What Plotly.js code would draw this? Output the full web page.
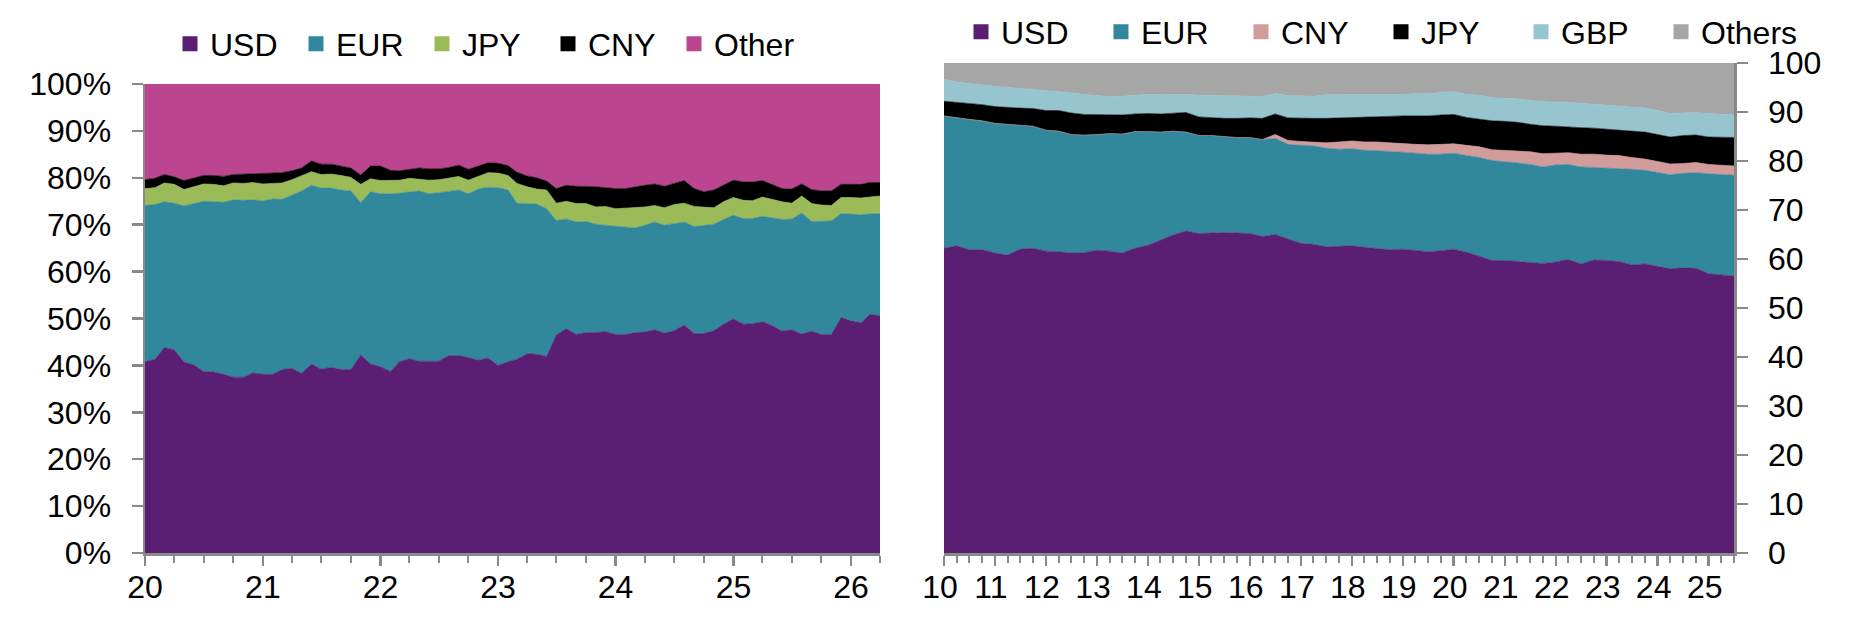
<!DOCTYPE html>
<html>
<head>
<meta charset="utf-8">
<script src="https://cdn.plot.ly/plotly-3.0.1.min.js"></script>
<style>
  html, body { margin: 0; padding: 0; background: #fff; }
  #chart { width: 1859px; height: 638px; }
</style>
</head>
<body>
<div id="chart"></div>
<script>
// ---------------- Left panel: monthly shares (%), Jan 2020 onwards ----------------
const LEFT_NAMES = ['USD', 'EUR', 'JPY', 'CNY', 'Other'];
const USD_L = [40.8,41.3,43.8,43.3,40.7,40.1,38.7,38.6,38.1,37.5, 37.5,38.4,38.1,38.1,39.1,39.4,38.3,40.3,39.2,39.6, 39.1,39.1,42.2,40.3,39.7,38.7,40.8,41.4,40.9,40.9, 40.9,42.1,42.1,41.7,41.1,41.6,40.0,40.8,41.3,42.5, 42.4,41.9,46.5,47.8,46.6,47.0,47.0,47.2,46.6,46.6, 47.0,47.1,47.6,46.9,47.4,48.6,46.8,46.8,47.4,48.8, 49.9,48.8,48.9,49.3,48.5,47.3,47.6,46.7,47.3,46.6, 46.6,50.2,49.5,49.1,50.9,50.6];
const EUR_L = [33.3,33.0,31.1,31.3,33.3,34.4,36.3,36.3,36.7,37.8, 37.7,36.9,37.0,37.4,36.3,36.9,38.9,38.1,38.6,38.2, 38.3,38.1,32.5,36.7,36.9,37.9,35.9,35.6,36.3,35.7, 35.9,35.0,35.3,34.9,36.5,36.4,37.9,36.6,33.3,32.0, 32.0,31.5,24.4,23.4,24.0,23.7,23.1,22.7,23.1,23.0, 22.3,22.8,23.0,23.0,22.8,22.0,22.8,23.0,22.7,22.3, 22.1,22.5,22.4,22.5,22.9,23.8,23.6,25.8,23.4,24.2, 24.2,22.2,22.7,23.0,21.4,21.8];
const JPY_L = [3.6,3.6,4.0,4.0,3.5,3.6,3.7,3.7,3.5,3.6, 3.6,3.7,3.6,3.3,3.5,3.3,3.2,2.9,2.9,3.0, 3.1,2.9,3.9,2.8,2.8,2.8,2.8,2.9,2.5,2.9, 2.8,2.8,2.9,2.9,2.8,3.1,3.1,3.1,4.2,3.6, 3.2,4.0,3.7,3.8,3.9,3.8,3.7,4.0,3.7,3.9, 4.3,3.9,3.5,3.7,4.1,4.0,4.3,4.0,3.5,3.8, 3.8,3.9,3.8,4.1,4.0,3.8,3.4,3.6,3.8,3.4, 3.3,3.4,3.6,3.6,3.6,3.7];
const CNY_L = [1.9,2.0,1.8,1.6,1.9,1.9,1.8,1.9,2.0,1.8, 2.0,1.9,2.2,2.2,2.2,1.9,1.7,2.3,2.2,2.1, 2.0,2.0,2.0,2.7,3.1,2.2,2.0,1.9,2.4,2.4, 2.3,2.3,2.4,2.3,2.1,2.1,2.1,2.1,2.4,2.3, 2.4,1.9,3.1,3.4,3.7,3.7,4.3,4.0,4.3,4.2, 4.5,4.6,4.6,4.6,4.5,4.8,3.8,3.2,3.8,3.5, 3.7,3.9,4.0,3.5,3.2,2.8,3.0,2.6,3.0,3.0, 3.1,2.8,2.8,2.9,3.1,2.9];
const OTH_L = [20.4,20.1,19.3,19.8,20.6,20.0,19.5,19.5,19.7,19.3, 19.2,19.1,19.1,19.0,18.9,18.5,17.9,16.4,17.1,17.1, 17.5,17.9,19.4,17.5,17.5,18.4,18.5,18.2,17.9,18.1, 18.1,17.8,17.3,18.2,17.5,16.8,16.9,17.4,18.8,19.6, 20.0,20.7,22.3,21.6,21.8,21.8,21.9,22.1,22.3,22.3, 21.9,21.6,21.3,21.8,21.2,20.6,22.3,23.0,22.6,21.6, 20.5,20.9,20.9,20.6,21.4,22.3,22.4,21.3,22.5,22.8, 22.8,21.4,21.4,21.4,21.0,21.0];

// ---------------- Right panel: quarterly shares (%), 2010 Q1 onwards ----------------
const RIGHT_NAMES = ['USD', 'EUR', 'CNY', 'JPY', 'GBP', 'Others'];
const USD_R = [62.2,62.7,61.9,61.9,61.2,60.8,62.0,62.2,61.6,61.5, 61.2,61.3,61.8,61.6,61.2,62.2,62.8,63.9,64.9,65.7, 65.2,65.3,65.4,65.3,65.2,64.6,65.0,64.1,63.2,63.0, 62.5,62.6,62.7,62.4,62.1,61.9,62.0,61.7,61.5,61.7, 62.0,61.4,60.6,59.7,59.7,59.5,59.3,59.1,59.4,59.9, 59.0,59.8,59.7,59.5,58.8,59.0,58.5,58.0,58.2,58.1, 57.0,56.7,56.5];
const EUR_R = [27.0,26.1,26.6,26.3,26.5,26.7,25.3,24.9,24.7,24.6, 24.2,24.0,23.6,24.0,24.3,23.8,23.2,22.0,21.2,20.2, 20.0,19.9,19.6,19.5,19.6,19.8,19.6,19.3,20.0,20.1, 20.1,19.8,19.8,19.8,20.0,20.1,19.8,19.9,19.9,19.7, 19.6,19.7,20.1,20.4,20.2,20.1,20.0,19.7,19.8,19.4, 19.8,18.9,18.9,19.0,19.5,19.1,19.2,19.2,19.3,19.5, 20.4,20.6,20.6];
const CNY_R = [0,0,0,0,0,0,0,0,0,0, 0,0,0,0,0,0,0,0,0,0, 0,0,0,0,0,0,0.8,0.8,0.8,0.8, 1.1,1.5,1.6,1.7,1.8,1.7,1.7,1.8,1.9,2.0, 1.9,2.1,2.2,2.2,2.3,2.5,2.6,2.7,2.4,2.4, 2.6,2.7,2.6,2.6,2.4,2.3,2.2,2.2,2.0,2.1, 1.9,1.9,1.9];
const JPY_R = [3.0,3.2,3.2,3.3,3.4,3.4,3.5,3.6,4.0,4.2, 4.4,4.2,4.1,3.9,3.9,3.6,3.7,3.7,3.6,4.0, 3.8,3.6,3.7,3.9,4.0,4.3,4.2,4.6,4.7,4.8, 5.0,4.9,4.7,5.1,5.2,5.5,5.7,5.8,5.9,6.0, 6.0,5.7,5.7,5.9,5.9,5.8,5.6,5.7,5.5,5.2, 5.4,5.3,5.3,5.2,5.3,5.5,5.5,5.5,5.7,5.6, 5.6,5.7,5.8];
const GBP_R = [4.5,4.1,4.1,4.0,4.1,4.1,4.0,3.9,4.0,3.9, 4.1,4.1,3.8,3.7,3.8,3.8,3.9,3.9,3.9,3.7, 4.4,4.5,4.6,4.6,4.4,4.4,4.2,4.5,4.6,4.5, 4.8,4.7,4.8,4.5,4.4,4.4,4.4,4.5,4.5,4.6, 4.7,4.7,4.8,4.7,4.7,4.8,4.9,4.9,4.9,5.1, 5.0,4.9,4.9,4.9,5.0,4.9,4.9,4.8,4.6,4.6, 4.8,4.6,4.6];
const OTH_R = [3.3,3.9,4.2,4.5,4.8,5.0,5.2,5.4,5.7,5.8, 6.1,6.4,6.7,6.8,6.8,6.6,6.4,6.5,6.4,6.4, 6.6,6.7,6.7,6.7,6.8,6.9,6.2,6.7,6.7,6.8, 6.5,6.5,6.4,6.5,6.5,6.4,6.4,6.3,6.3,6.0, 5.8,6.4,6.6,7.1,7.2,7.3,7.6,7.9,8.0,8.0, 8.2,8.4,8.6,8.8,9.0,9.2,9.7,10.3,10.2,10.1, 10.3,10.5,10.6];

// ---------------- Category (date) labels ----------------
function monthDates(startYear, count, stepMonths) {
  const out = [];
  for (let i = 0; i < count; i++) {
    const m = i * stepMonths;
    const y = startYear + Math.floor(m / 12);
    const mm = (m % 12) + 1;
    out.push(y + '-' + String(mm).padStart(2, '0') + '-01');
  }
  return out;
}
const DATES_L = monthDates(2020, USD_L.length, 1);
const DATES_R = monthDates(2010, USD_R.length, 3);

// ---------------- Styles ----------------
const FONT = 'Liberation Sans, Arial, sans-serif';
const FS = 32;
const AXIS_GREY = '#898989';
const COLORS_L = ['#5A1F72', '#31879C', '#9BBB59', '#000000', '#BB458E'];
const COLORS_R = ['#5A1F72', '#31879C', '#D29C9B', '#000000', '#96C4CF', '#A6A6A6'];

const traces = [];
[USD_L, EUR_L, JPY_L, CNY_L, OTH_L].forEach((vals, k) => {
  traces.push({
    type: 'scatter', mode: 'lines', x: DATES_L, y: vals,
    stackgroup: 'left', groupnorm: k === 0 ? 'percent' : undefined,
    line: { width: 0.6, color: COLORS_L[k], shape: 'linear' },
    fillcolor: COLORS_L[k], name: LEFT_NAMES[k],
    xaxis: 'x', yaxis: 'y', showlegend: false, hoverinfo: 'x+y+name'
  });
});
[USD_R, EUR_R, CNY_R, JPY_R, GBP_R, OTH_R].forEach((vals, k) => {
  traces.push({
    type: 'scatter', mode: 'lines', x: DATES_R, y: vals,
    stackgroup: 'right', groupnorm: k === 0 ? 'percent' : undefined,
    line: { width: 0.6, color: COLORS_R[k], shape: 'linear' },
    fillcolor: COLORS_R[k], name: RIGHT_NAMES[k],
    xaxis: 'x2', yaxis: 'y2', showlegend: false, hoverinfo: 'x+y+name'
  });
});
// legend entries (square swatches as in the original)
LEFT_NAMES.forEach((n, k) => traces.push({
  type: 'scatter', mode: 'markers', x: [null], y: [null], name: n,
  marker: { symbol: 'square', size: 15, color: COLORS_L[k] },
  xaxis: 'x', yaxis: 'y', legend: 'legend', showlegend: true, hoverinfo: 'skip'
}));
RIGHT_NAMES.forEach((n, k) => traces.push({
  type: 'scatter', mode: 'markers', x: [null], y: [null], name: n,
  marker: { symbol: 'square', size: 15, color: COLORS_R[k] },
  xaxis: 'x2', yaxis: 'y2', legend: 'legend2', showlegend: true, hoverinfo: 'skip'
}));

const W = 1859, H = 638;
const xAxisCommon = {
  type: 'date', showgrid: false, zeroline: false,
  showline: true, linecolor: AXIS_GREY, linewidth: 2.5,
  ticks: 'outside', ticklen: 10, tickwidth: 2.5, tickcolor: AXIS_GREY,
  dtick: 'M12', tickformat: '%y',
  minor: { dtick: 'M3', ticks: 'outside', ticklen: 7, tickwidth: 2, tickcolor: AXIS_GREY, showgrid: false },
  tickfont: { family: FONT, size: FS, color: '#000' },
  ticklabelstandoff: -6, fixedrange: true
};
const yAxisCommon = {
  range: [0, 100], dtick: 10, tick0: 0, showgrid: false, zeroline: false,
  showline: true, linecolor: AXIS_GREY, linewidth: 2.5,
  ticks: 'outside', ticklen: 11, tickwidth: 2.5, tickcolor: AXIS_GREY,
  tickfont: { family: FONT, size: FS, color: '#000' }, fixedrange: true
};

const layout = {
  width: W, height: H,
  margin: { l: 0, r: 0, t: 0, b: 0 },
  paper_bgcolor: '#fff', plot_bgcolor: '#fff',
  font: { family: FONT, size: FS, color: '#000' },
  xaxis: Object.assign({}, xAxisCommon, {
    domain: [145 / W, 880 / W], anchor: 'y',
    range: [DATES_L[0], DATES_L[DATES_L.length - 1]], tick0: '2020-01-01'
  }),
  yaxis: Object.assign({}, yAxisCommon, {
    domain: [1 - 553 / H, 1 - 84 / H], anchor: 'x', side: 'left',
    ticksuffix: '%', ticklabelstandoff: 14
  }),
  xaxis2: Object.assign({}, xAxisCommon, {
    domain: [944 / W, 1734 / W], anchor: 'y2',
    range: [DATES_R[0], DATES_R[DATES_R.length - 1]], tick0: '2010-01-01',
    ticklabelshift: -4
  }),
  yaxis2: Object.assign({}, yAxisCommon, {
    domain: [1 - 553 / H, 1 - 63 / H], anchor: 'x2', side: 'right',
    ticklabelstandoff: 14
  }),
  legend: {
    orientation: 'h', x: 170 / W, xanchor: 'left', y: 1 - 44 / H, yanchor: 'middle',
    font: { family: FONT, size: FS, color: '#000' }, bgcolor: 'rgba(0,0,0,0)',
    traceorder: 'normal', entrywidth: 81, entrywidthmode: 'pixels', itemclick: false, itemdoubleclick: false
  },
  legend2: {
    orientation: 'h', x: 961 / W, xanchor: 'left', y: 1 - 32 / H, yanchor: 'middle',
    font: { family: FONT, size: FS, color: '#000' }, bgcolor: 'rgba(0,0,0,0)',
    traceorder: 'normal', entrywidth: 95, entrywidthmode: 'pixels', itemclick: false, itemdoubleclick: false
  },
  showlegend: true
};

Plotly.newPlot('chart', traces, layout, { staticPlot: true, displayModeBar: false });
</script>
</body>
</html>
